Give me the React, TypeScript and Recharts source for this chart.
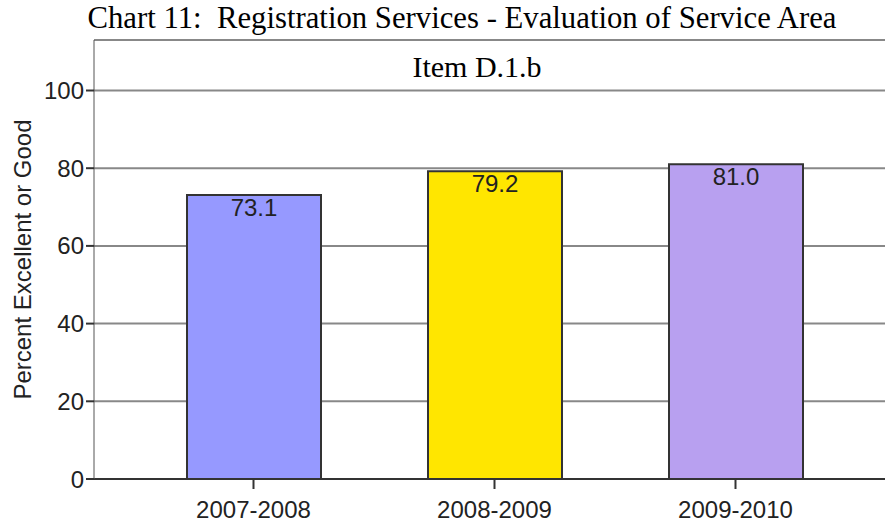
import React from "react";
import { BarChart, Bar, XAxis, YAxis, CartesianGrid, Cell, LabelList } from "recharts";

const categories = ["2007-2008", "2008-2009", "2009-2010"];
const values = [73.1, 79.2, 81.0];
const colors = ["#9699FF", "#FFE600", "#B8A0F0"];
const yTicks = [0, 20, 40, 60, 80, 100];
const title = "Chart 11:\u00A0 Registration Services - Evaluation of Service Area";
const subtitle = "Item D.1.b";

const data = categories.map((c, i) => ({ name: c, value: values[i] }));

const SANS = "'Liberation Sans', Arial, sans-serif";
const SERIF = "'Liberation Serif', 'Times New Roman', serif";

const ValueLabel = (props: any) => {
  const { x, y, width, value } = props;
  return (
    <text x={x + width / 2} y={y + 21} textAnchor="middle" fontFamily={SANS} fontSize={24} fill="#222">
      {Number(value).toFixed(1)}
    </text>
  );
};

const XTick = (props: any) => {
  const { x, y, payload } = props;
  return (
    <text x={x} y={y + 27} textAnchor="middle" fontFamily={SANS} fontSize={24} fill="#222">
      {payload.value}
    </text>
  );
};

export default function App() {
  return (
    <div style={{ position: "absolute", left: 0, top: 0, width: 885, height: 525, background: "#fff" }}>
      <BarChart width={885} height={525} data={data} margin={{ top: 40, right: 0, left: 0, bottom: 0 }}>
        <text
          x={462}
          y={28}
          textAnchor="middle"
          fontFamily={SERIF}
          fontSize={31}
          fill="#000"
          textLength={749}
          lengthAdjust="spacingAndGlyphs"
        >
          {title}
        </text>
        <text x={477} y={77} textAnchor="middle" fontFamily={SERIF} fontSize={30} fill="#000">
          {subtitle}
        </text>
        <CartesianGrid vertical={false} stroke="#888" strokeWidth={2} />
        <XAxis
          dataKey="name"
          padding={{ left: 39, right: 29 }}
          tickSize={10}
          height={46}
          axisLine={{ stroke: "#333", strokeWidth: 2 }}
          tickLine={{ stroke: "#333", strokeWidth: 2 }}
          tick={<XTick />}
          interval={0}
        />
        <YAxis
          domain={[0, 113]}
          ticks={yTicks}
          width={94}
          tickSize={8}
          axisLine={{ stroke: "#555", strokeWidth: 1 }}
          tickLine={{ stroke: "#333", strokeWidth: 2 }}
          tick={{ fontFamily: SANS, fontSize: 24, fill: "#222" }}
          label={{
            value: "Percent Excellent or Good",
            angle: -90,
            position: "insideLeft",
            dx: 17,
            style: { fontFamily: SANS, fontSize: 24, fill: "#222", textAnchor: "middle" },
          }}
        />
        <Bar dataKey="value" barSize={134} stroke="#333" strokeWidth={2} isAnimationActive={false}>
          {data.map((d, i) => (
            <Cell key={d.name} fill={colors[i]} />
          ))}
          <LabelList dataKey="value" content={ValueLabel} />
        </Bar>
      </BarChart>
    </div>
  );
}
